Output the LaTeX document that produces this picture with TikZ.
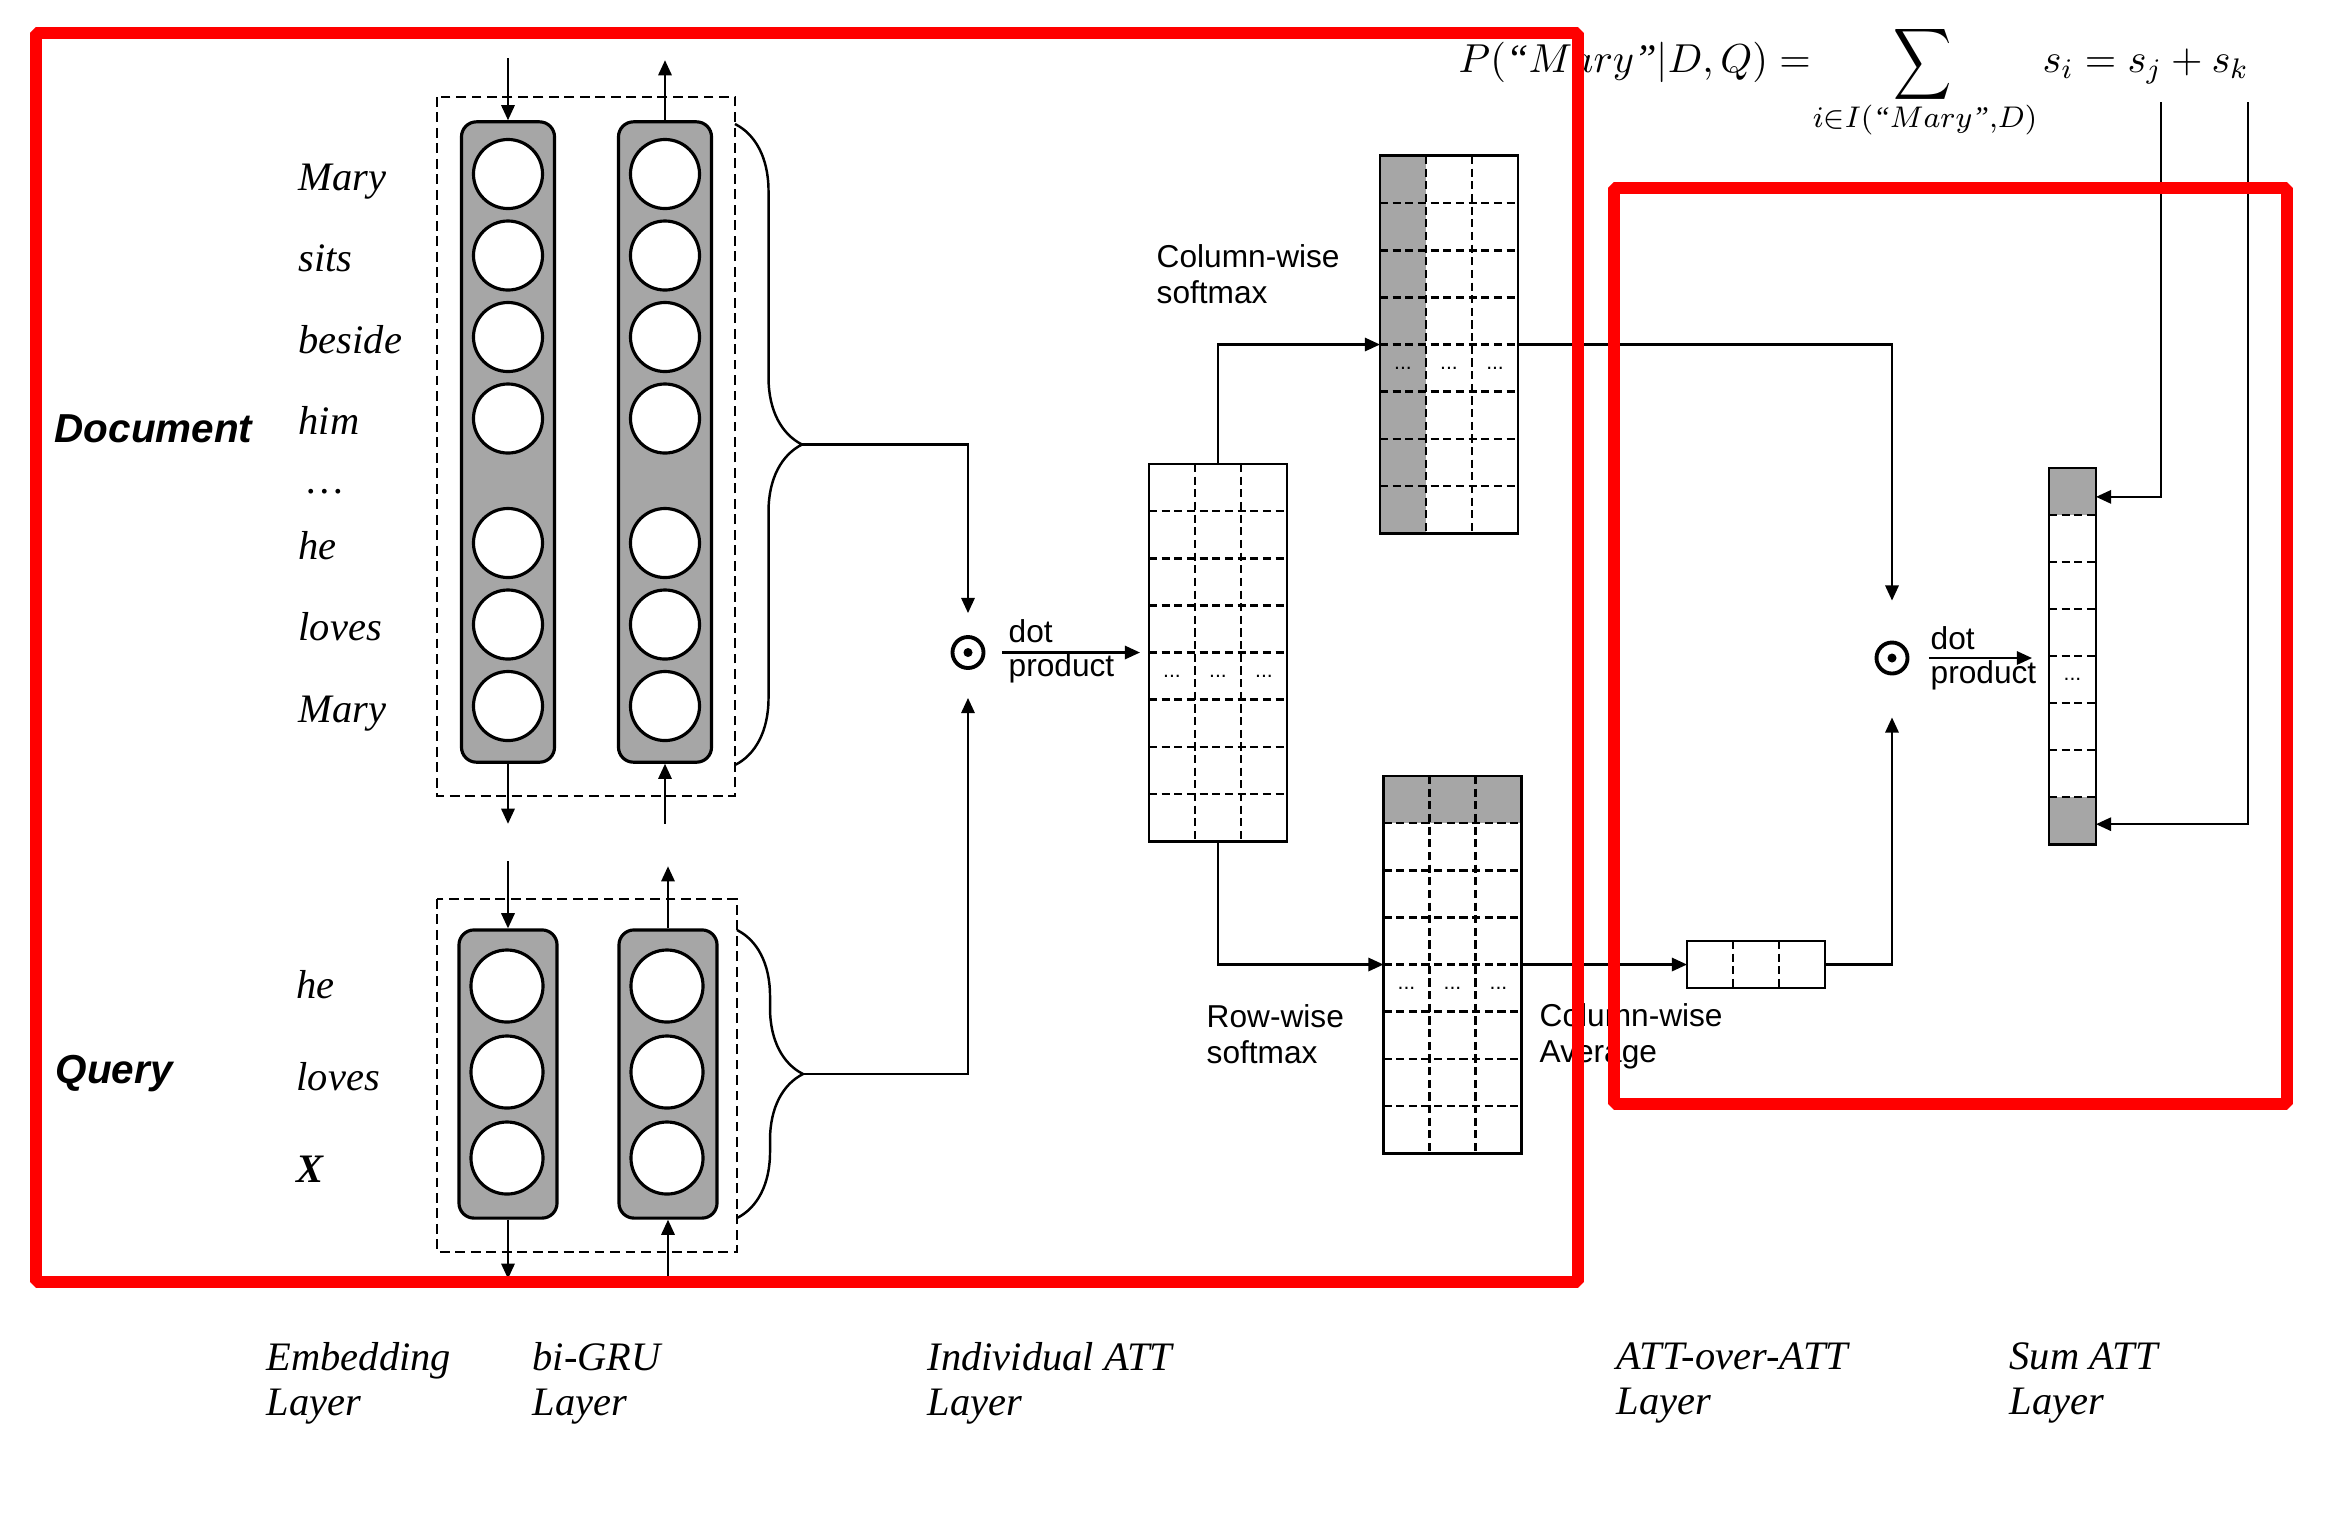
\documentclass[tikz,border=0pt]{standalone}
\usepackage{fix-cm}
\usepackage{graphicx}
\usepackage{fontspec}
\setmainfont{Liberation Serif}
\newfontfamily\sansfont{Liberation Sans}
\usetikzlibrary{arrows.meta,calc,decorations.pathreplacing}
\definecolor{cellgray}{RGB}{166,166,166}
\definecolor{framered}{RGB}{255,0,0}

\tikzset{
  conn/.style={line width=0.6pt},
  pill/.style={rectangle,rounded corners=0.15cm,draw,fill=cellgray,line width=0.9pt,inner sep=0pt},
  neuron/.style={circle,draw,fill=white,line width=0.9pt,inner sep=0pt,minimum size=0.69cm},
  stackbox/.style={draw,dash pattern=on 2.8pt off 1.6pt,line width=0.65pt},
  matbox/.style={rectangle,inner sep=0pt,outer sep=0pt,minimum width=1.38cm,minimum height=3.77cm},
  griddash/.style={dash pattern=on 2.3pt off 1.3pt,line width=0.75pt},
  matline/.style={line width=0.8pt},
  dotop/.style={circle,draw,line width=1.1pt,minimum size=0.31cm,inner sep=0pt},
  word/.style={anchor=base west,inner sep=0pt,font=\itshape\fontsize{11.5}{13}\selectfont},
  sidelabel/.style={anchor=base west,inner sep=0pt,font=\sansfont\bfseries\itshape\fontsize{11.5}{13}\selectfont},
  note/.style={inner sep=0pt,align=left,font=\sansfont\fontsize{9}{10.2}\selectfont},
  cdots/.style={inner sep=0pt,font=\sansfont\fontsize{6}{6}\selectfont},
  layername/.style={anchor=north west,align=left,inner sep=0pt,font=\itshape\fontsize{11.5}{12.8}\selectfont},
  bracepath/.style={decorate,line width=0.7pt},
  redframe/.style={draw=framered,line width=3.3pt,line join=bevel}
}

\newcommand{\matgrid}[3]{%
  \ifnum#2>1
    \pgfmathtruncatemacro{\lastcol}{#2-1}%
    \foreach \c in {1,...,\lastcol}
      \draw[griddash] ($(#1.north west)!\c/#2!(#1.north east)$) -- ($(#1.south west)!\c/#2!(#1.south east)$);
  \fi
  \ifnum#3>1
    \pgfmathtruncatemacro{\lastrow}{#3-1}%
    \foreach \r in {1,...,\lastrow}
      \draw[griddash] ($(#1.north west)!\r/#3!(#1.south west)$) -- ($(#1.north east)!\r/#3!(#1.south east)$);
  \fi
  \draw[matline] (#1.north west) rectangle (#1.south east);
}

\begin{document}
\begin{tikzpicture}[x=0.01cm,y=-0.01cm,>={Triangle[length=4.3pt,width=3.8pt]}]
\useasboundingbox (0,0) rectangle (2345,1532);

% document stack
\draw[stackbox] (437,97) rectangle (735,796);
\node[pill,minimum width=0.93cm,minimum height=6.4cm] (dl) at (508,442) {};
\node[pill,minimum width=0.93cm,minimum height=6.4cm] (dr) at (665,442) {};
\foreach \y [count=\i] in {174,255.5,337,418.5,543,624.5,706}{
  \node[neuron] (dl\i) at (508,\y) {};
  \node[neuron] (dr\i) at (665,\y) {};
}
\foreach \w/\y [count=\i] in {Mary/190,sits/271.5,beside/353,him/434.5,he/559,loves/640.5,Mary/722}
  \node[word] (dw\i) at (298,\y) {\w};
\node[word] (ddots) at (307,493) {\dots};
\node[sidelabel] (doc) at (54,442) {Document};
\draw[conn,->] ([yshift=0.62cm]dl.north) -- (dl.north);
\draw[conn,->] (dr.north) -- ([yshift=0.6cm]dr.north);
\draw[conn,->] (dl.south) -- ([yshift=-0.6cm]dl.south);
\draw[conn,->] ([yshift=-0.6cm]dr.south) -- (dr.south);
\draw[bracepath,decoration={brace,amplitude=0.67cm}] (735,124) -- (735,765);
\coordinate (docb) at (802,444.5);

% query stack
\draw[stackbox] (437,899) rectangle (737,1252);
\node[pill,minimum width=0.98cm,minimum height=2.88cm] (ql) at (508,1074) {};
\node[pill,minimum width=0.98cm,minimum height=2.88cm] (qr) at (668,1074) {};
\foreach \y [count=\i] in {986,1072,1158}{
  \node[neuron,minimum size=0.72cm] (ql\i) at (507,\y) {};
  \node[neuron,minimum size=0.72cm] (qr\i) at (667,\y) {};
}
\node[word] (qw1) at (296,998) {he};
\node[word] (qw2) at (296,1090) {loves};
\node[word,font=\bfseries\itshape\fontsize{11.5}{13}\selectfont] (qw3) at (296,1182) {X};
\node[sidelabel] (qry) at (55,1083) {Query};
\draw[conn,->] ([yshift=0.67cm]ql.north) -- (ql.north);
\draw[conn,->] (qr.north) -- ([yshift=0.62cm]qr.north);
\draw[conn,->] (ql.south) -- ([yshift=-0.59cm]ql.south);
\draw[conn,->] ([yshift=-0.59cm]qr.south) -- (qr.south);
\draw[bracepath,decoration={brace,amplitude=0.66cm}] (737,930) -- (737,1218);
\coordinate (qryb) at (803,1074);

% individual attention
\node[dotop] (dot1) at (968,652.5) {};
\fill (dot1) circle[radius=0.045cm];
\draw[conn,->,shorten >=0.22cm] (docb) -| (dot1);
\draw[conn,->,shorten >=0.28cm] (qryb) -| (dot1);

\node[matbox] (M) at (1218,652.5) {};
\matgrid{M}{3}{8}
\node[matbox] (A) at (1449,344.5) {};
\fill[cellgray] (A.north west) rectangle ($(A.south west)!1/3!(A.south east)$);
\matgrid{A}{3}{8}
\node[matbox] (B) at (1452.5,964.5) {};
\fill[cellgray] (B.north west) rectangle ($(B.north east)!1/8!(B.south east)$);
\matgrid{B}{3}{8}
\foreach \m in {M,A,B}
  \foreach \c [count=\k] in {1,3,5}
    \node[cdots] (\m dots\k) at ($(\m.west)!\c/6!(\m.east)+(0,23.5)$) {...};

\draw[conn,->,shorten <=0.17cm,shorten >=0.09cm] (dot1) -- (dot1 -| M.west);
\node[note,anchor=base west] (dotA) at (1008,642) {dot};
\node[note,anchor=base west] (prodA) at (1008,676) {product};
\draw[conn,->] (M.north) |- (A.west);
\draw[conn,->] (M.south) |- (B.west);
\node[note,anchor=north west] (colsm) at (1156,244) {Column-wise\\softmax};
\node[note,anchor=north west] (rowsm) at (1206,1004) {Row-wise\\softmax};

% attention over attention
\node[matbox,minimum height=0.47cm] (avg) at (1756,964.5) {};
\matgrid{avg}{3}{1}
\draw[conn,->] (B.east) -- (avg.west);
\node[note,anchor=north west] (colavg) at (1539,1003) {Column-wise\\Average};

\node[dotop] (dot2) at (1892,658) {};
\fill (dot2) circle[radius=0.045cm];
\draw[conn,->,shorten >=0.4cm] (A.east) -| (dot2);
\draw[conn,->,shorten >=0.42cm] (avg.east) -| (dot2);

% sum attention
\node[matbox,minimum width=0.47cm,minimum height=3.76cm] (sv) at (2072.5,656) {};
\fill[cellgray] (sv.north west) rectangle ($(sv.north east)!1/8!(sv.south east)$);
\fill[cellgray] ($(sv.north west)!7/8!(sv.south west)$) rectangle (sv.south east);
\matgrid{sv}{1}{8}
\node[cdots] (svdots) at ($(sv.center)+(0,23.5)$) {...};
\draw[conn,->,shorten <=0.195cm,shorten >=0.17cm] (dot2) -- (dot2 -| sv.west);
\node[note,anchor=base west] (dotB) at (1930,649) {dot};
\node[note,anchor=base west] (prodB) at (1930,683) {product};

% formula
\node[anchor=base west,inner sep=0pt,font=\fontsize{11.5}{13}\selectfont] (prob) at (1458,72)
  {$P(\mbox{\itshape “}Mary\mbox{\itshape ”}|D,Q)=$};
\node[inner sep=0pt,font=\fontsize{17}{17}\selectfont] (sumop) at (1923,64)
  {\scalebox{1.15}[1.42]{$\displaystyle\sum$}};
\node[inner sep=0pt,font=\fontsize{8.5}{9}\selectfont] (sumidx) at (1925,120)
  {$i{\in}I(\mbox{\itshape “}Mary\mbox{\itshape ”}{,}D)$};
\node[anchor=base west,inner sep=0pt,font=\fontsize{11.5}{13}\selectfont] (scores) at (2042,72) {$s_i=s_j+s_k$};
\coordinate (sjtop) at (2161,102);
\coordinate (sktop) at (2248,102);
\draw[conn,->] (sjtop) |- ($(sv.north east)!0.077!(sv.south east)$);
\draw[conn,->] (sktop) |- ($(sv.north east)!0.947!(sv.south east)$);

% layer names
\node[layername] (lemb) at (266,1342) {Embedding\\Layer};
\node[layername] (lgru) at (532,1342) {bi-GRU\\Layer};
\node[layername] (lind) at (927,1342) {Individual ATT\\Layer};
\node[layername] (laoa) at (1616,1342) {ATT-over-ATT\\Layer};
\node[layername] (lsum) at (2009,1342) {Sum ATT\\Layer};

% highlight frames
\draw[redframe] (36,33) rectangle (1578,1282);
\draw[redframe] (1614,188) rectangle (2287,1104);
\end{tikzpicture}
\end{document}
